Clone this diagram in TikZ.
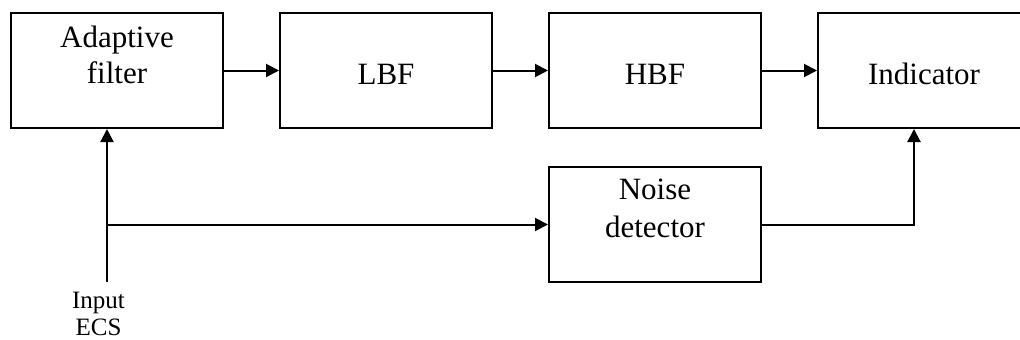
\documentclass[tikz,border=0pt]{standalone}
\usepackage{fontspec}
\setmainfont{Liberation Serif}
\usetikzlibrary{arrows.meta}
\tikzset{
  block/.style={draw, line width=2pt, minimum width=212pt, minimum height=115pt, inner sep=0pt},
  btext/.style={anchor=base, inner sep=0pt, font=\fontsize{31}{36}\selectfont},
  small/.style={anchor=base, inner sep=0pt, font=\fontsize{25}{29}\selectfont},
  wire/.style={line width=2pt, -{Triangle[length=13pt,width=13pt]}}
}
\begin{document}
\begin{tikzpicture}[x=1pt, y=-1pt]
  \useasboundingbox (0,0) rectangle (1020,340);
  % blocks
  \node[block] (af)  at (117,70.5) {};
  \node[block] (lbf) at (386,70.5) {};
  \node[block] (hbf) at (655,70.5) {};
  \node[block] (ind) at (924,70.5) {};
  \node[block] (nd)  at (655,224.5) {};
  % block labels
  \node[btext] (afA) at (117,47) {Adaptive};
  \node[btext] (afB) at (117,83) {filter};
  \node[btext] (lbfT) at (386,84) {LBF};
  \node[btext] (hbfT) at (655,84) {HBF};
  \node[btext] (indT) at (924,84) {Indicator};
  \node[btext] (ndA) at (655,199) {Noise};
  \node[btext] (ndB) at (655,237) {detector};
  % input label
  \node[small] (inA) at (98.5,308) {Input};
  \node[small] (inB) at (98.5,335) {ECS};
  % input line and branch point
  \coordinate (src) at (107,282);
  \coordinate (tap) at (107,224.5);
  \coordinate (bend) at (914,224.5);
  % connectors
  \draw[wire] (af.east) -- (lbf.west);
  \draw[wire] (lbf.east) -- (hbf.west);
  \draw[wire] (hbf.east) -- (ind.west);
  \draw[wire] (src) -- (src |- af.south);
  \draw[wire] (tap) -- (nd.west);
  \draw[wire] (nd.east) -- (bend) -- (bend |- ind.south);
\end{tikzpicture}
\end{document}
